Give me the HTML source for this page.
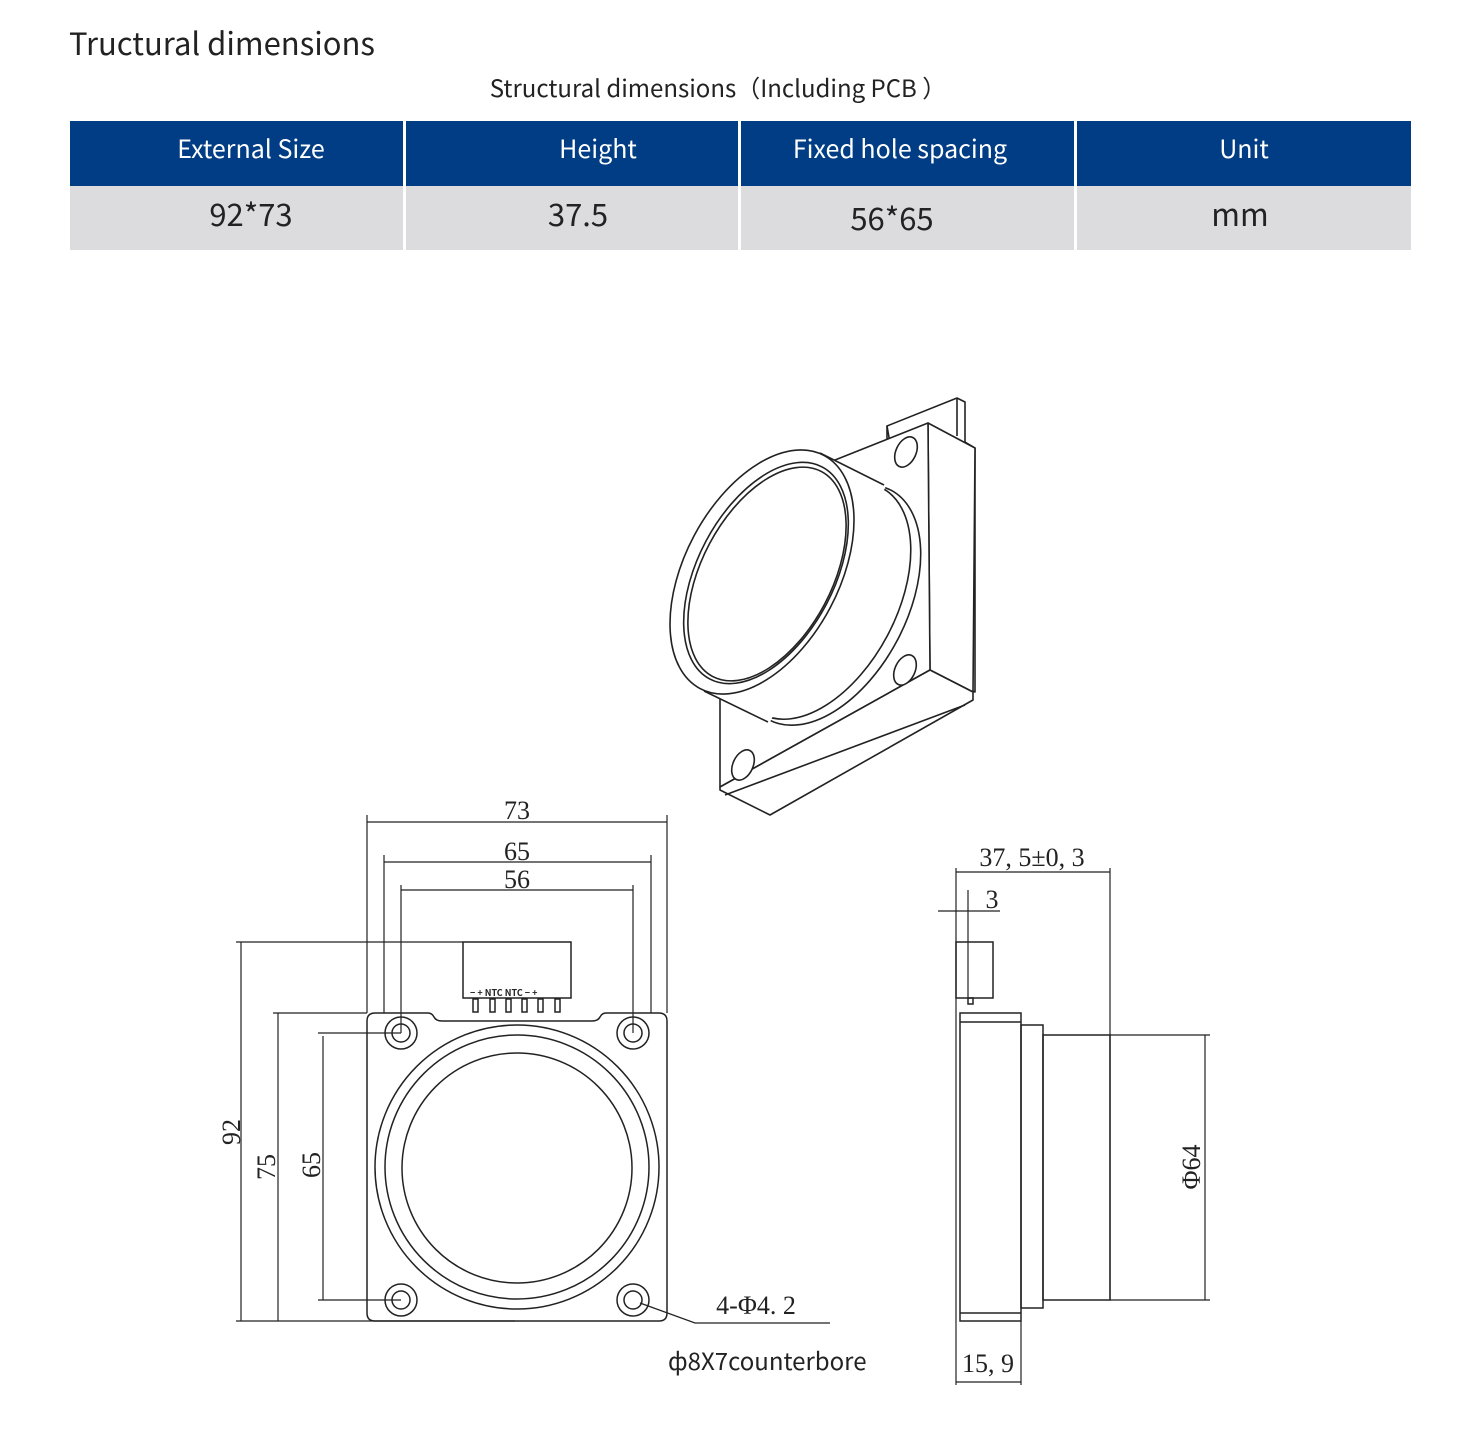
<!DOCTYPE html>
<html><head><meta charset="utf-8"><style>
html,body{margin:0;padding:0;background:#fff}
body{width:1464px;height:1445px;position:relative;overflow:hidden}
svg{position:absolute;left:0;top:0}
.s{font-family:"Noto Sans CJK SC","Liberation Sans",sans-serif}
.r{font-family:"Liberation Serif","Noto Serif CJK SC",serif}
</style></head><body>
<svg width="1464" height="1445" viewBox="0 0 1464 1445" xmlns="http://www.w3.org/2000/svg">
<text x="69" y="55" class="s" font-size="31" fill="#222">Tructural dimensions</text>
<text x="718" y="97" class="s" font-size="24" fill="#222" text-anchor="middle">Structural dimensions（Including PCB ）</text>
<g fill="#013d85">
<rect x="70" y="121" width="333" height="65"/><rect x="406" y="121" width="332" height="65"/>
<rect x="741" y="121" width="333" height="65"/><rect x="1077" y="121" width="334" height="65"/></g>
<g fill="#dcdcde">
<rect x="70" y="186" width="333" height="64"/><rect x="406" y="186" width="332" height="64"/>
<rect x="741" y="186" width="333" height="64"/><rect x="1077" y="186" width="334" height="64"/></g>
<g class="s" font-size="25" fill="#fff" text-anchor="middle">
<text x="251" y="158">External Size</text><text x="598" y="158">Height</text>
<text x="900" y="158">Fixed hole spacing</text><text x="1244" y="158">Unit</text></g>
<g class="s" font-size="31" fill="#222" text-anchor="middle">
<text x="251" y="226">92*73</text><text x="578" y="226">37.5</text>
<text x="892" y="230">56*65</text><text x="1240" y="226">mm</text></g>

<!-- isometric -->
<g fill="#fff" stroke="#222" stroke-width="1.6" stroke-linejoin="round">
<polygon points="887,426 957,398 965,402 965,442 975,448 975,692 930,670"/>
<polyline points="887,426 887,443 837,462" fill="none"/>
<line x1="957" y1="398" x2="957" y2="436"/>
<polygon points="928,423 975,448 973,692 930,670"/>
<polygon points="830,462 928,423 930,670 720,787 720,697 760,690"/>
<polygon points="930,670 973,692 973,700 770,815 720,790 720,787"/>
<line x1="725" y1="795" x2="965" y2="705"/>
<ellipse cx="906" cy="452" rx="10" ry="16" transform="rotate(25 906 452)"/>
<ellipse cx="905" cy="670" rx="10" ry="16" transform="rotate(25 905 670)"/>
<ellipse cx="743" cy="765" rx="10" ry="16" transform="rotate(25 743 765)"/>
<ellipse cx="830" cy="605" rx="130" ry="76" transform="rotate(-62 830 605)"/>
<ellipse cx="822" cy="601" rx="128" ry="74" transform="rotate(-62 822 601)"/>
<polygon points="820,453 886,486 770,722 704,691" stroke="none"/>
<line x1="820" y1="453" x2="884" y2="485"/>
<line x1="704" y1="691" x2="768" y2="722"/>
<ellipse cx="762" cy="572" rx="132" ry="77" transform="rotate(-62 762 572)"/>
<ellipse cx="766" cy="573" rx="120" ry="68" transform="rotate(-62 766 573)"/>
<ellipse cx="767" cy="574" rx="116" ry="65" transform="rotate(-62 767 574)" fill="none"/>
</g>

<!-- front view -->
<g fill="none" stroke="#222" stroke-width="1.5">
<path d="M375,1013 H428 Q432,1013 434,1017 Q436,1021 442,1021 H592 Q598,1021 600,1017 Q602,1013 606,1013 H659 Q667,1013 667,1021 V1313 Q667,1321 659,1321 H375 Q367,1321 367,1313 V1021 Q367,1013 375,1013 Z"/>
<rect x="463" y="942" width="108" height="56"/>
<g><rect x="473" y="999" width="5" height="13"/><rect x="490" y="999" width="5" height="13"/><rect x="506" y="999" width="5" height="13"/><rect x="522" y="999" width="5" height="13"/><rect x="538" y="999" width="5" height="13"/><rect x="555" y="999" width="5" height="13"/></g>
<circle cx="401" cy="1033" r="16"/><circle cx="401" cy="1033" r="9"/>
<circle cx="633" cy="1033" r="16"/><circle cx="633" cy="1033" r="9"/>
<circle cx="401" cy="1300" r="16"/><circle cx="401" cy="1300" r="9"/>
<circle cx="633" cy="1300" r="16"/><circle cx="633" cy="1300" r="9"/>
<circle cx="517" cy="1167" r="142"/><circle cx="517" cy="1167" r="132"/><circle cx="517" cy="1168" r="115"/>
<g stroke-width="1.2">
<line x1="367" y1="815" x2="367" y2="1013"/><line x1="667" y1="815" x2="667" y2="1013"/><line x1="367" y1="822" x2="667" y2="822"/>
<line x1="384" y1="855" x2="384" y2="1013"/><line x1="651" y1="855" x2="651" y2="1013"/><line x1="384" y1="862" x2="651" y2="862"/>
<line x1="401" y1="885" x2="401" y2="1033"/><line x1="633" y1="885" x2="633" y2="1033"/><line x1="401" y1="890" x2="633" y2="890"/>
<line x1="236" y1="942" x2="463" y2="942"/><line x1="236" y1="1321" x2="515" y2="1321"/><line x1="241" y1="942" x2="241" y2="1321"/>
<line x1="273" y1="1013" x2="367" y2="1013"/><line x1="278" y1="1013" x2="278" y2="1321"/>
<line x1="318" y1="1033" x2="401" y2="1033"/><line x1="318" y1="1300" x2="401" y2="1300"/><line x1="323" y1="1036" x2="323" y2="1300"/>
<polyline points="640,1303 695,1323 830,1323"/>
</g></g>
<g class="s" font-size="9" fill="#222" font-weight="bold"><text x="470" y="996">− + NTC NTC − +</text></g>
<g class="r" font-size="26" fill="#222" text-anchor="middle">
<text x="517" y="819">73</text><text x="517" y="860">65</text><text x="517" y="888">56</text>
<text transform="translate(240,1132) rotate(-90)">92</text>
<text transform="translate(275,1167) rotate(-90)">75</text>
<text transform="translate(320,1165) rotate(-90)">65</text>
<text x="756" y="1314">4-Φ4. 2</text>
<text x="1032" y="866">37, 5±0, 3</text>
<text x="992" y="908">3</text>
<text x="988" y="1372">15, 9</text>
<text transform="translate(1200,1167) rotate(-90)">Φ64</text>
</g>
<text x="668" y="1370" class="s" font-size="24" fill="#222">ф8X7counterbore</text>

<!-- side view -->
<g fill="none" stroke="#222" stroke-width="1.5">
<rect x="956" y="942" width="37" height="56"/>
<rect x="968" y="998" width="5" height="6"/>
<rect x="960" y="1013" width="61" height="308"/>
<line x1="960" y1="1022" x2="1021" y2="1022"/><line x1="960" y1="1313" x2="1021" y2="1313"/>
<rect x="1021" y="1025" width="22" height="283"/>
<rect x="1043" y="1035" width="67" height="265"/>
<g stroke-width="1.2">
<line x1="956" y1="868" x2="956" y2="1385"/>
<line x1="956" y1="872" x2="1110" y2="872"/><line x1="1110" y1="868" x2="1110" y2="1300"/>
<line x1="938" y1="911" x2="1000" y2="911"/><line x1="968" y1="890" x2="968" y2="998"/>
<line x1="1110" y1="1035" x2="1210" y2="1035"/><line x1="1110" y1="1300" x2="1210" y2="1300"/>
<line x1="1205" y1="1035" x2="1205" y2="1300"/>
<line x1="1021" y1="1321" x2="1021" y2="1385"/><line x1="956" y1="1382" x2="1021" y2="1382"/>
</g></g>
</svg>
</body></html>
